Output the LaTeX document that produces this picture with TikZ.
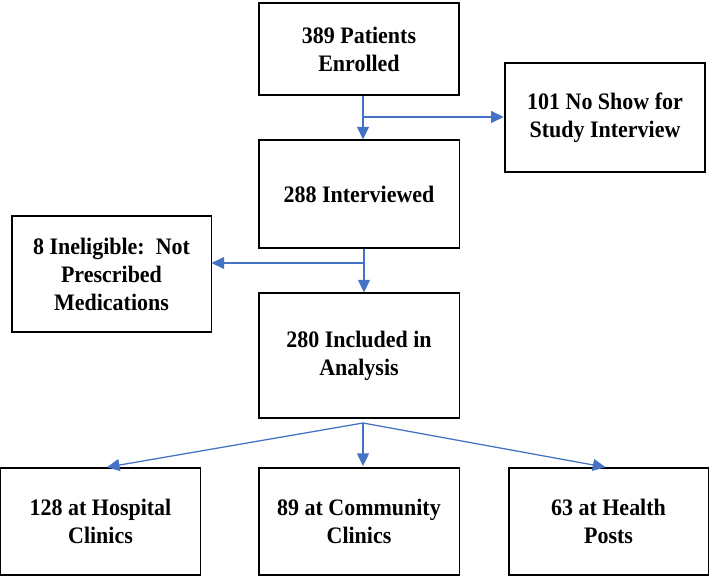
\documentclass[tikz,border=0pt]{standalone}
\usepackage{fontspec}
\setmainfont{Liberation Serif}[FakeStretch=0.93]
\usepackage{xcolor}
\usepackage{tikz}
\usetikzlibrary{arrows.meta}
\definecolor{flowblue}{RGB}{68,114,196}

\begin{document}
\begin{tikzpicture}[x=0.025cm,y=-0.025cm,
   every node/.style={font=\fontsize{16.8}{19.9}\selectfont\bfseries, align=center, inner sep=0pt},
   box/.style={draw, line width=0.75pt, minimum width=5cm},
   thickbox/.style={box, line width=1.8pt},
   flow/.style={flowblue, line width=0.9pt, -{Triangle[length=9pt,width=8.5pt]}}]
   \useasboundingbox (0,0) rectangle (709,576);
   \node[thickbox, minimum height=2.3cm] (enrolled) at (359,49) {389 Patients\\Enrolled};
   \node[thickbox, minimum height=2.725cm] (noshow) at (605,117.5) {101 No Show for\\Study Interview};
   \node[box, minimum height=2.7cm] (interviewed) at (359,194) {288 Interviewed};
   \node[box, minimum width=4.975cm, minimum height=2.9cm] (ineligible) at (111.5,274) {8 Ineligible:~~Not\\Prescribed\\Medications};
   \node[box, minimum height=3.125cm] (included) at (359,355.5) {280 Included in\\Analysis};
   \node[box, minimum height=2.675cm] (hospital) at (100.5,521.5) {128 at Hospital\\Clinics};
   \node[box, minimum height=2.675cm] (community) at (359,521.5) {89 at Community\\Clinics};
   \node[box, minimum width=4.975cm, minimum height=2.675cm] (posts) at (608.5,521.5) {63 at Health\\Posts};
   % branch points
   \coordinate (j1) at (363,117);
   \coordinate (j2) at (364,263);
   \coordinate (split) at (363,423);
   \draw[flow] (enrolled.south -| j1) -- (interviewed.north -| j1);
   \draw[flow] (j1) -- (noshow.west |- j1);
   \draw[flow] (interviewed.south -| j2) -- (included.north -| j2);
   \draw[flow] (j2) -- (ineligible.east |- j2);
   \draw[flow, shorten >=1pt] (split) -- ([xshift=0.125cm]hospital.north);
   \draw[flow, shorten >=1pt] (split) -- (community.north -| split);
   \draw[flow, shorten >=1pt] (split) -- ([xshift=-0.04cm]posts.north);
\end{tikzpicture}
\end{document}
